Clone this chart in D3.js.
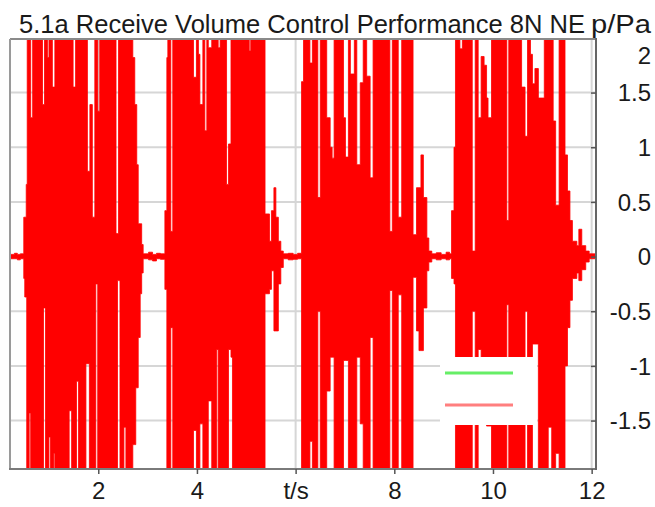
<!DOCTYPE html>
<html>
<head>
<meta charset="utf-8">
<script src="https://cdn.jsdelivr.net/npm/d3@7"></script>
<style>
  html, body { margin: 0; padding: 0; background: #fff; }
  svg { display: block; font-family: "Liberation Sans", Arial, sans-serif; }
</style>
</head>
<body>
<svg id="chart" width="655" height="507"></svg>
<script>
// ---- data (time in s, envelope of p in Pa) ----
const timeS = [
  0.00, 0.30, 0.36, 0.42,
  0.49, 0.51, 0.54, 0.55, 0.56, 0.60, 0.63, 0.67, 0.87, 0.89, 0.91, 0.93, 0.97, 1.00, 1.03, 1.07,
  1.10, 1.12, 1.41, 1.46, 1.49, 1.54, 1.56, 1.60, 1.75, 1.78, 1.82, 1.83, 1.88, 1.93, 1.95, 1.99,
  2.03, 2.36, 2.39, 2.41, 2.44, 2.52, 2.56, 2.70, 2.74, 2.76, 2.78, 2.81, 2.85, 2.88,
  2.91, 3.02, 3.10, 3.18, 3.26,
  3.35, 3.39, 3.41, 3.47, 3.51, 3.93, 3.99, 4.03, 4.06, 4.12, 4.16, 4.20, 4.23, 4.30, 4.40, 4.43,
  4.47, 4.60, 4.64, 4.69, 4.72, 5.06, 5.09, 5.38, 5.47, 5.51, 5.56, 5.60, 5.65, 5.70,
  5.75, 5.85, 5.95, 6.04,
  6.12, 6.16, 6.29, 6.34, 6.45, 6.50, 6.63, 6.70, 6.74, 6.78, 6.97, 7.01, 7.07, 7.11, 7.19, 7.24,
  7.31, 7.37, 7.44, 7.51, 7.57, 7.91, 7.96, 8.08, 8.15, 8.38, 8.45, 8.50, 8.54, 8.59, 8.66, 8.70,
  8.76, 8.85, 8.95, 9.05, 9.12,
  9.16, 9.21, 9.24, 9.33, 9.38, 9.58, 9.64, 9.70, 9.76, 9.82, 9.87, 9.90, 9.97, 10.28, 10.32, 10.58,
  10.65, 10.70, 10.76, 10.80, 10.85, 10.92, 11.04, 11.12, 11.19, 11.22, 11.27, 11.34, 11.46, 11.51,
  11.56, 11.61, 11.70, 11.74, 11.80, 11.88,
  11.95, 12.20
];
const upperPa = [
  0.02, 0.03, 0.02, 0.025,
  0.36, 0.36, 0.66, 0.66, 2.2, 2.2, 1.27, 2.2, 1.39, 1.39, 2.2, 2.2, 1.82, 2.2, 2.2, 1.55,
  1.55, 2.2, 2.2, 2.2, 1.55, 2.2, 2.2, 2.2, 2.2, 0.78, 0.78, 1.39, 0.36, 2.2, 2.2, 1.33,
  2.2, 0.21, 0.21, 2.2, 2.2, 2.2, 2.2, 1.82, 1.39, 1.39, 0.84, 0.30, 0.30, 0.11,
  0.025, 0.04, 0.02, 0.03, 0.025,
  0.42, 1.82, 2.2, 0.23, 2.2, 1.64, 2.2, 1.85, 1.39, 2.2, 1.15, 2.2, 1.91, 2.2, 2.2, 1.91,
  2.2, 0.66, 1.03, 2.2, 2.2, 1.88, 2.2, 0.39, 0.14, 0.42, 0.63, 0.36, 0.14, 0.05,
  0.025, 0.03, 0.02, 0.03,
  1.6, 2.2, 1.77, 2.2, 0.54, 2.2, 1.27, 1.0, 0.9, 2.2, 1.27, 0.91, 2.2, 1.67, 2.2, 0.84,
  1.59, 2.2, 1.65, 0.72, 2.2, 0.23, 2.2, 0.36, 2.2, 0.2, 0.63, 0.63, 0.93, 0.54, 0.17, 0.05,
  0.025, 0.035, 0.02, 0.04, 0.025,
  0.42, 1.0, 2.2, 1.9, 2.2, 0.05, 2.2, 1.27, 1.83, 1.75, 1.45, 1.27, 2.2, 0.33, 2.2, 1.55,
  1.1, 2.2, 1.85, 1.58, 1.72, 1.45, 2.2, 2.2, 2.2, 1.24, 0.47, 2.2, 0.93, 0.6,
  0.33, 0.14, 0.1, 0.25, 0.1, 0.05,
  0.025, 0.025
];
const lowerPa = [
  -0.02, -0.02, -0.03, -0.02,
  -0.2, -0.37, -0.37, -2.2, -2.2, -1.43, -2.2, -2.2, -2.2, -0.47, -0.47, -2.2, -2.2, -1.65, -2.2, -2.2,
  -1.8, -2.2, -1.41, -2.2, -2.2, -2.2, -1.14, -2.2, -0.98, -0.98, -2.2, -2.2, -2.2, -2.2, -0.25, -2.2,
  -2.2, -2.2, -0.22, -0.22, -2.2, -1.56, -2.2, -1.72, -1.72, -1.2, -1.2, -0.74, -0.34, -0.15,
  -0.02, -0.03, -0.04, -0.02, -0.025,
  -0.3, -2.2, -2.2, -0.65, -2.2, -1.59, -2.2, -2.2, -1.53, -2.2, -2.2, -2.2, -1.32, -2.2, -0.85, -2.2,
  -2.2, -2.2, -0.85, -0.92, -2.2, -2.2, -2.2, -0.34, -0.3, -0.13, -0.68, -0.68, -0.25, -0.1,
  -0.02, -0.03, -0.025, -0.02,
  -2.2, -2.2, -1.69, -2.2, -0.5, -2.2, -1.23, -0.92, -0.92, -2.2, -0.95, -0.95, -2.2, -2.2, -2.2, -0.92,
  -1.53, -2.2, -2.2, -0.74, -2.2, -0.31, -2.2, -0.35, -2.2, -0.19, -0.68, -0.86, -0.86, -0.47, -0.13, -0.05,
  -0.02, -0.03, -0.02, -0.03, -0.02,
  -0.2, -0.25, -2.2, -2.2, -2.2, -0.5, -2.2, -0.85, -1.5, -1.5, -1.55, -1.55, -2.2, -0.44, -2.2, -2.2,
  -0.5, -2.2, -2.2, -0.8, -0.8, -2.2, -2.2, -1.56, -2.2, -2.2, -1.8, -2.2, -1.0, -0.65,
  -0.4, -0.2, -0.15, -0.22, -0.12, -0.05,
  -0.02, -0.02
];
const yTicks = [2, 1.5, 1, 0.5, 0, -0.5, -1, -1.5];
const yTickLabels = ["2", "1.5", "1", "0.5", "0", "-0.5", "-1", "-1.5"];
const xTicks = [2, 4, 6, 8, 10, 12];
const xTickLabels = ["2", "4", "t/s", "8", "10", "12"];
const xDomain = [0.211, 12.088];
const yDomain = [-1.943, 1.99];
const titleText = "5.1a Receive Volume Control Performance 8N NE";
const unitText = "p/Pa";

// ---- layout ----
const L = 10, R = 596, T = 39, B = 469;
const svg = d3.select("#chart");
const x = d3.scaleLinear().domain(xDomain).range([L, R]);
const y = d3.scaleLinear().domain(yDomain).range([B, T]);

svg.append("rect").attr("width", 655).attr("height", 507).attr("fill", "#fff");

svg.append("defs").append("clipPath").attr("id", "plotClip")
  .append("rect").attr("x", L).attr("y", T).attr("width", R - L).attr("height", B - T);

// gridlines
const grid = svg.append("g");
grid.selectAll("line.h").data(yTicks.filter(v => y(v) > T + 1)).join("line")
  .attr("x1", L).attr("x2", R).attr("y1", d => y(d)).attr("y2", d => y(d))
  .attr("stroke", "#d6d6d6").attr("stroke-width", 2);
grid.selectAll("line.v").data(xTicks).join("line")
  .attr("x1", d => x(d)).attr("x2", d => x(d)).attr("y1", T).attr("y2", B)
  .attr("stroke", "#d6d6d6").attr("stroke-width", 2);

// waveform envelope
const data = timeS.map((t, i) => ({ t, hi: upperPa[i], lo: lowerPa[i] }));
const area = d3.area()
  .x(d => x(d.t)).y0(d => y(d.lo)).y1(d => y(d.hi))
  .curve(d3.curveStepAfter);
svg.append("g").attr("clip-path", "url(#plotClip)")
  .append("path").datum(data).attr("d", area)
  .attr("fill", "#ff0000").attr("stroke", "#ff0000").attr("stroke-width", 0.8);

// legend box
svg.append("rect").attr("x", 440).attr("y", 357).attr("width", 97).attr("height", 68).attr("fill", "#fff");
svg.append("line").attr("x1", 445).attr("x2", 513).attr("y1", 373).attr("y2", 373)
  .attr("stroke", "#66ee66").attr("stroke-width", 3);
svg.append("line").attr("x1", 445).attr("x2", 513).attr("y1", 405).attr("y2", 405)
  .attr("stroke", "#ff7f7f").attr("stroke-width", 3);

// frame
svg.append("line").attr("x1", L).attr("x2", R).attr("y1", T).attr("y2", T).attr("stroke", "#8a8a8a").attr("stroke-width", 2);
svg.append("line").attr("x1", L).attr("x2", L).attr("y1", T).attr("y2", B).attr("stroke", "#9a9a9a").attr("stroke-width", 2);
svg.append("line").attr("x1", L - 1).attr("x2", R + 1).attr("y1", B).attr("y2", B).attr("stroke", "#7a7a7a").attr("stroke-width", 2);
svg.append("line").attr("x1", R).attr("x2", R).attr("y1", T - 1).attr("y2", B + 1).attr("stroke", "#666").attr("stroke-width", 2);

// right axis (ticks inward, labels right-aligned)
const yAxis = d3.axisRight(y).tickValues(yTicks.filter(v => v < 2)).tickSize(-5).tickFormat("");
svg.append("g").attr("transform", `translate(${R},0)`).call(yAxis)
  .call(g => g.select(".domain").remove())
  .call(g => g.selectAll("line").attr("stroke", "#555").attr("stroke-width", 1.5));
const yLab = svg.append("g").attr("font-size", 24).attr("fill", "#1a1a1a").attr("text-anchor", "end");
yTicks.forEach((v, i) => {
  const yy = v === 2 ? y(v) + 17 : y(v);
  yLab.append("text").attr("x", 651).attr("y", yy).attr("dy", "0.36em").text(yTickLabels[i]);
});

// bottom axis
const xAxis = d3.axisBottom(x).tickValues(xTicks).tickSize(5).tickPadding(8)
  .tickFormat((d, i) => xTickLabels[i]);
svg.append("g").attr("transform", `translate(0,${B})`).call(xAxis)
  .call(g => g.select(".domain").remove())
  .call(g => g.selectAll("line").attr("stroke", "#555").attr("stroke-width", 1.5))
  .call(g => g.selectAll("text").attr("font-size", 24).attr("fill", "#1a1a1a")
    .attr("font-family", "Liberation Sans, Arial, sans-serif"));

// title + unit
svg.append("text").attr("x", 19).attr("y", 33).attr("font-size", 25.5).attr("fill", "#1a1a1a")
  .attr("textLength", 566).attr("lengthAdjust", "spacingAndGlyphs")
  .text(titleText);
svg.append("text").attr("x", 591).attr("y", 33).attr("font-size", 26).attr("fill", "#1a1a1a")
  .attr("textLength", 60).attr("lengthAdjust", "spacingAndGlyphs").text(unitText);
</script>
</body>
</html>
